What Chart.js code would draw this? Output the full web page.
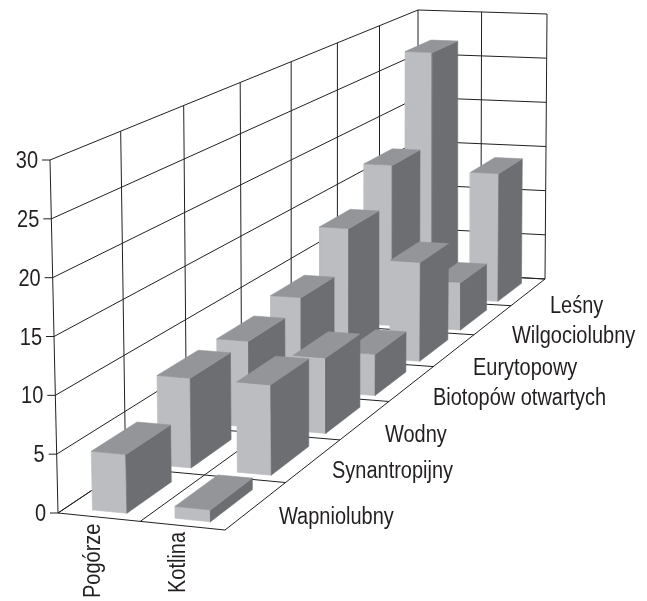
<!DOCTYPE html>
<html>
<head>
<meta charset="utf-8">
<script src="https://cdn.jsdelivr.net/npm/chart.js@4"></script>
<style>
  html, body { margin: 0; padding: 0; background: #fff; }
  canvas { display: block; }
</style>
</head>
<body>
<canvas id="chart" width="647" height="601"></canvas>
<script>
// data, front row first
const categories = ['Wapniolubny', 'Synantropijny', 'Wodny', 'Biotopów otwartych', 'Eurytopowy', 'Wilgociolubny', 'Leśny'];
const seriesNames = ['Pogórze', 'Kotlina'];
const pogorze = [5, 8, 8, 9, 13, 17, 27];
const kotlina = [1, 8, 7, 4, 10, 5, 14];
const valueTicks = [0, 5, 10, 15, 20, 25, 30];

// box corners on screen: floor and top plane (front-left, front-right, back-right, back-left)
const floorQuad = [[58, 513], [225, 530], [545, 279], [418, 272]];
const topQuad = [[50, 160], [221, 172], [547, 14], [418, 10]];
const valueMax = 30;

const colors = { front: '#bcbdc0', side: '#6d6e71', top: '#939598', grid: '#231f20', text: '#231f20' };
const barU = [0.16, 0.37];    // bar width inside half of the floor, per series
const barV = [0.12, 0.80];    // bar depth inside one category slot

function homography(q) {
  const [[x0, y0], [x1, y1], [x2, y2], [x3, y3]] = q;
  const dx1 = x1 - x2, dx2 = x3 - x2, sx = x0 - x1 + x2 - x3;
  const dy1 = y1 - y2, dy2 = y3 - y2, sy = y0 - y1 + y2 - y3;
  const den = dx1 * dy2 - dx2 * dy1;
  const g = (sx * dy2 - dx2 * sy) / den;
  const h = (dx1 * sy - sx * dy1) / den;
  return (u, v) => {
    const w = g * u + h * v + 1;
    return [
      ((x1 - x0 + g * x1) * u + (x3 - x0 + h * x3) * v + x0) / w,
      ((y1 - y0 + g * y1) * u + (y3 - y0 + h * y3) * v + y0) / w
    ];
  };
}
const floorAt = homography(floorQuad);
const topAt = homography(topQuad);

// u: across series, v: across categories, val: chart value
function project(u, v, val) {
  const a = floorAt(u, v), b = topAt(u, v), t = val / valueMax;
  return { x: a[0] + (b[0] - a[0]) * t, y: a[1] + (b[1] - a[1]) * t };
}

const datasets = [];
let layer = 0;

function addLine(points) {
  datasets.push({ data: points, showLine: true, fill: false, pointRadius: 0, borderColor: colors.grid, borderWidth: 1, order: -(layer++) });
}
// thin border in the face colour so grid lines do not bleed through the seams
function addFace(points, color) {
  datasets.push({ data: points.concat(points[0]), showLine: true, fill: 'shape', backgroundColor: color, pointRadius: 0, borderColor: color, borderWidth: 0.6, order: -(layer++) });
}

// walls and floor grid
const nCat = categories.length;
valueTicks.forEach(t => {
  addLine([project(0, 0, t), project(0, 1, t), project(1, 1, t)]);
  const p = project(0, 0, t);
  addLine([{ x: p.x - 8, y: p.y }, p]);
});
for (let c = 0; c <= nCat; c++) {
  addLine([project(0, c / nCat, 0), project(0, c / nCat, valueMax)]);
  addLine([project(0, c / nCat, 0), project(1, c / nCat, 0)]);
}
addLine([project(1, 1, 0), project(1, 1, valueMax)]);
addLine([project(0.5, 1, 0), project(0.5, 1, valueMax)]);
for (let s = 0; s <= seriesNames.length; s++) {
  addLine([project(s / 2, 0, 0), project(s / 2, 1, 0)]);
}

// bars, back row first
const rows = [pogorze, kotlina];
for (let c = nCat - 1; c >= 0; c--) {
  rows.forEach((vals, s) => {
    const u0 = (s + barU[0] * 2) / 2, u1 = (s + barU[1] * 2) / 2;
    const v0 = (c + barV[0]) / nCat, v1 = (c + barV[1]) / nCat;
    const val = vals[c];
    addFace([project(u0, v0, 0), project(u1, v0, 0), project(u1, v0, val), project(u0, v0, val)], colors.front);
    addFace([project(u1, v0, 0), project(u1, v1, 0), project(u1, v1, val), project(u1, v0, val)], colors.side);
    addFace([project(u0, v0, val), project(u1, v0, val), project(u1, v1, val), project(u0, v1, val)], colors.top);
  });
}

// text placement: [x, baseline y]
const categoryLabelPos = [[279, 524], [332, 478], [385, 442], [433, 405], [473, 375], [512, 343], [550, 313]];
const seriesLabelPos = [[100, 598], [185, 593]];
const labelFont = '23.5px "Liberation Sans"';
const squeeze = 0.85;

const labelsPlugin = {
  id: 'labels',
  afterDatasetsDraw(chart) {
    const ctx = chart.ctx;
    const { x: xs, y: ys } = chart.scales;
    ctx.save();
    ctx.fillStyle = colors.text;
    ctx.font = labelFont;
    ctx.textBaseline = 'alphabetic';

    valueTicks.forEach(t => {
      const p = project(0, 0, t);
      ctx.save();
      ctx.translate(xs.getPixelForValue(p.x - 12), ys.getPixelForValue(p.y + 8));
      ctx.scale(squeeze, 1);
      ctx.textAlign = 'right';
      ctx.fillText(String(t), 0, 0);
      ctx.restore();
    });
    categories.forEach((name, i) => {
      ctx.save();
      ctx.translate(categoryLabelPos[i][0], categoryLabelPos[i][1]);
      ctx.scale(squeeze, 1);
      ctx.textAlign = 'left';
      ctx.fillText(name, 0, 0);
      ctx.restore();
    });
    seriesNames.forEach((name, i) => {
      ctx.save();
      ctx.translate(seriesLabelPos[i][0], seriesLabelPos[i][1]);
      ctx.rotate(-Math.PI / 2);
      ctx.scale(squeeze, 1);
      ctx.textAlign = 'left';
      ctx.fillText(name, 0, 0);
      ctx.restore();
    });
    ctx.restore();
  }
};

new Chart(document.getElementById('chart').getContext('2d'), {
  type: 'scatter',
  data: { datasets },
  options: {
    responsive: false,
    animation: false,
    layout: { padding: 0 },
    clip: false,
    elements: { line: { tension: 0 } },
    plugins: { legend: { display: false }, tooltip: { enabled: false } },
    scales: {
      x: { type: 'linear', min: 0, max: 647, display: false },
      y: { type: 'linear', min: 0, max: 601, reverse: true, display: false }
    }
  },
  plugins: [labelsPlugin]
});
</script>
</body>
</html>
